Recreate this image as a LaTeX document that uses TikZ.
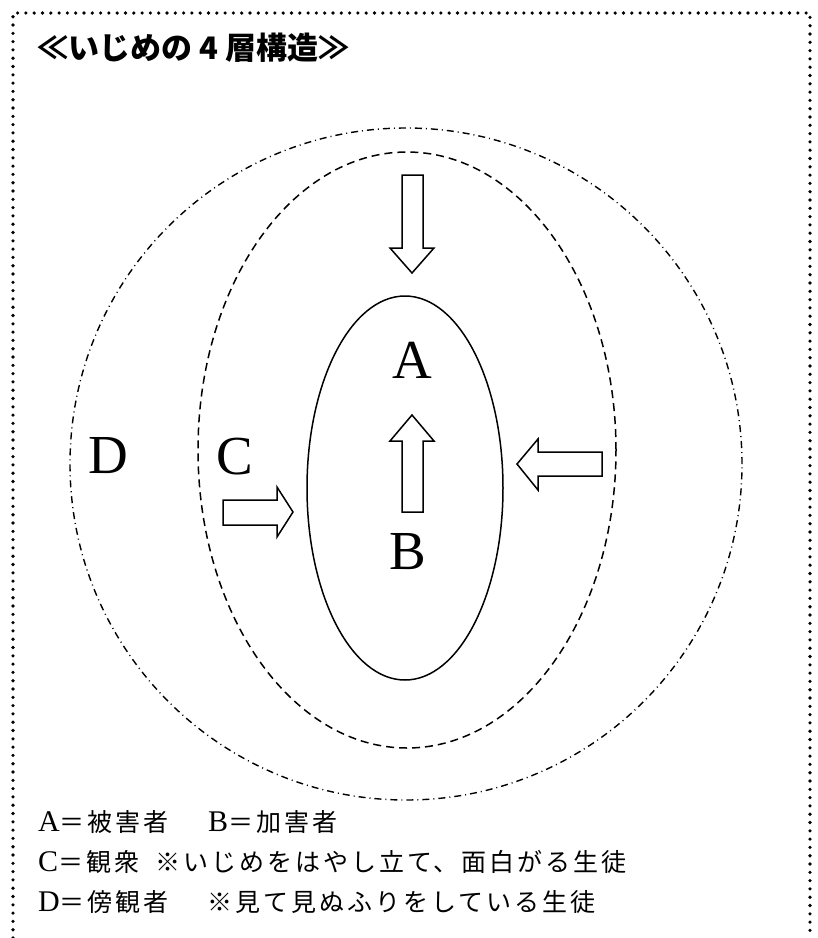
\documentclass[tikz,border=0pt]{standalone}
\usepackage{fontspec}
\usepackage{tikz}
\newfontfamily\jp[LetterSpace=12]{Noto Sans CJK JP}
\newfontfamily\jptitle{Noto Sans CJK JP}
\newfontfamily\latin{Liberation Serif}
\newcommand\lat[1]{{\latin\fontsize{30}{30}\selectfont #1}}

\begin{document}
\begin{tikzpicture}[x=1pt,y=-1pt,
        letter/.style={inner sep=0pt,font=\latin\fontsize{55}{55}\selectfont},
        legend/.style={anchor=west,inner sep=0pt,font=\jp\fontsize{25}{25}\selectfont},
        hollow/.style={draw,line width=1.5pt,fill=white,line join=miter}]

    \useasboundingbox (0,0) rectangle (818,938);

    % dotted frame, open at the bottom
    \draw[line width=3.6pt,line cap=round,dash pattern=on 0pt off 8.3pt]
        (13,938) -- (13,13) -- (810,13) -- (810,938);

    \node[anchor=west,inner sep=0pt,font=\jptitle\bfseries\fontsize{31}{31}\selectfont]
        (title) at (37,48) {≪いじめの 4 層構造≫};

    % the four layers
    \draw[line width=1.4pt,dash pattern=on 7pt off 4pt on 1pt off 4pt]
        (406,464) ellipse [x radius=336pt,y radius=336pt];
    \draw[line width=1.5pt,dash pattern=on 8pt off 5pt]
        (407,450) ellipse [x radius=209pt,y radius=298pt];
    \draw[line width=1.5pt]
        (405,488) ellipse [x radius=98pt,y radius=192pt];

    % block arrows
    \draw[hollow] (402,175) -- (402,248) -- (390,248) -- (412,273)
        -- (434,248) -- (423,248) -- (423,175) -- cycle;
    \draw[hollow] (402,512) -- (402,441) -- (390,441) -- (412,415)
        -- (434,441) -- (423,441) -- (423,512) -- cycle;
    \draw[hollow] (223,500) -- (277,500) -- (277,487) -- (293,512)
        -- (277,537) -- (277,525) -- (223,525) -- cycle;
    \draw[hollow] (602,452) -- (538,452) -- (538,439) -- (517,464)
        -- (538,490) -- (538,476) -- (602,476) -- cycle;

    \node[letter] (A) at (412,360) {A};
    \node[letter] (B) at (408,552) {B};
    \node[letter] (C) at (235,457) {C};
    \node[letter] (D) at (108,456) {D};

    % legend
    \node[legend] (la) at (38,822) {\lat{A}＝被害者};
    \node[legend] (lb) at (208,822) {\lat{B}＝加害者};
    \node[legend] (lc) at (38,862) {\lat{C}＝観衆};
    \node[legend] (nc) at (155,862) {※いじめをはやし立て、面白がる生徒};
    \node[legend] (ld) at (38,902) {\lat{D}＝傍観者};
    \node[legend] (nd) at (207,902) {※見て見ぬふりをしている生徒};
\end{tikzpicture}
\end{document}
